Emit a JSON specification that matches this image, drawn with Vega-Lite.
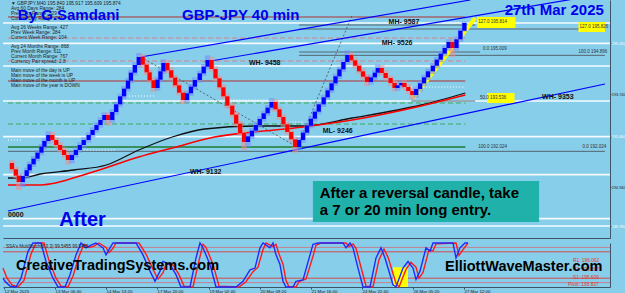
{
"$schema": "https://vega.github.io/schema/vega-lite/v6.json",
"background": "#87CEEB",
"padding": 0,
"spacing": 2,
"config": {
  "view": {"stroke": null},
  "font": "Liberation Sans",
  "axis": {"grid": false, "title": null},
  "axisX": {"labels": false, "ticks": false, "domainColor": "#3d5566", "domainWidth": 1},
  "axisY": {"labels": false, "ticks": false, "domainColor": "#3d5566", "domainWidth": 1}
},
"datasets": {
  "candles": [
    {"x":4,"o":191.67,"c":191.48,"h":191.75,"l":191.40},
    {"x":8,"o":191.48,"c":191.29,"h":191.56,"l":191.21},
    {"x":11,"o":191.29,"c":191.10,"h":191.37,"l":190.86},
    {"x":15,"o":191.10,"c":191.28,"h":191.36,"l":190.95},
    {"x":19,"o":191.28,"c":191.45,"h":191.53,"l":191.20},
    {"x":22,"o":191.45,"c":191.63,"h":191.71,"l":191.37},
    {"x":26,"o":191.63,"c":191.80,"h":191.88,"l":191.55},
    {"x":30,"o":191.80,"c":191.98,"h":192.06,"l":191.72},
    {"x":34,"o":191.98,"c":192.16,"h":192.24,"l":191.90},
    {"x":37,"o":192.16,"c":192.33,"h":192.41,"l":192.08},
    {"x":41,"o":192.33,"c":192.51,"h":192.62,"l":192.25},
    {"x":45,"o":192.51,"c":192.36,"h":192.60,"l":192.28},
    {"x":49,"o":192.36,"c":192.21,"h":192.44,"l":192.13},
    {"x":53,"o":192.21,"c":192.06,"h":192.29,"l":191.98},
    {"x":57,"o":192.06,"c":191.91,"h":192.14,"l":191.83},
    {"x":61,"o":191.91,"c":191.76,"h":191.99,"l":191.62},
    {"x":65,"o":191.76,"c":191.91,"h":191.99,"l":191.66},
    {"x":69,"o":191.91,"c":192.06,"h":192.14,"l":191.83},
    {"x":73,"o":192.06,"c":192.21,"h":192.29,"l":191.98},
    {"x":77,"o":192.21,"c":192.36,"h":192.44,"l":192.13},
    {"x":82,"o":192.36,"c":192.51,"h":192.59,"l":192.28},
    {"x":86,"o":192.51,"c":192.66,"h":192.74,"l":192.43},
    {"x":90,"o":192.66,"c":192.81,"h":192.89,"l":192.58},
    {"x":94,"o":192.81,"c":192.96,"h":193.04,"l":192.73},
    {"x":98,"o":192.96,"c":193.11,"h":193.19,"l":192.88},
    {"x":102,"o":193.11,"c":192.96,"h":193.19,"l":192.80},
    {"x":106,"o":192.96,"c":193.20,"h":193.28,"l":192.88},
    {"x":110,"o":193.20,"c":193.43,"h":193.51,"l":193.12},
    {"x":114,"o":193.43,"c":193.67,"h":193.75,"l":193.35},
    {"x":118,"o":193.67,"c":193.90,"h":193.98,"l":193.59},
    {"x":122,"o":193.90,"c":194.14,"h":194.22,"l":193.82},
    {"x":125,"o":194.14,"c":194.38,"h":194.46,"l":194.06},
    {"x":129,"o":194.38,"c":194.61,"h":194.69,"l":194.30},
    {"x":133,"o":194.61,"c":194.85,"h":194.97,"l":194.53},
    {"x":137,"o":194.85,"c":194.62,"h":194.93,"l":194.54},
    {"x":141,"o":194.62,"c":194.39,"h":194.70,"l":194.31},
    {"x":144,"o":194.39,"c":194.15,"h":194.47,"l":194.07},
    {"x":148,"o":194.15,"c":193.92,"h":194.23,"l":193.80},
    {"x":152,"o":193.92,"c":194.17,"h":194.25,"l":193.84},
    {"x":155,"o":194.17,"c":194.42,"h":194.50,"l":194.09},
    {"x":158,"o":194.42,"c":194.67,"h":194.78,"l":194.34},
    {"x":162,"o":194.67,"c":194.45,"h":194.75,"l":194.37},
    {"x":166,"o":194.45,"c":194.23,"h":194.53,"l":194.15},
    {"x":170,"o":194.23,"c":194.00,"h":194.31,"l":193.92},
    {"x":174,"o":194.00,"c":193.78,"h":194.08,"l":193.70},
    {"x":178,"o":193.78,"c":193.56,"h":193.86,"l":193.44},
    {"x":182,"o":193.56,"c":193.76,"h":193.84,"l":193.48},
    {"x":186,"o":193.76,"c":193.96,"h":194.04,"l":193.68},
    {"x":190,"o":193.96,"c":194.16,"h":194.24,"l":193.88},
    {"x":195,"o":194.16,"c":194.36,"h":194.44,"l":194.08},
    {"x":199,"o":194.36,"c":194.56,"h":194.64,"l":194.28},
    {"x":203,"o":194.56,"c":194.76,"h":194.90,"l":194.48},
    {"x":207,"o":194.76,"c":194.49,"h":194.86,"l":194.41},
    {"x":211,"o":194.49,"c":194.21,"h":194.57,"l":194.13},
    {"x":215,"o":194.21,"c":193.94,"h":194.29,"l":193.86},
    {"x":219,"o":193.94,"c":193.67,"h":194.02,"l":193.59},
    {"x":223,"o":193.67,"c":193.39,"h":193.75,"l":193.31},
    {"x":228,"o":193.39,"c":193.12,"h":193.47,"l":193.04},
    {"x":232,"o":193.12,"c":192.85,"h":193.20,"l":192.77},
    {"x":236,"o":192.85,"c":192.57,"h":192.93,"l":192.49},
    {"x":240,"o":192.57,"c":192.30,"h":192.65,"l":192.06},
    {"x":244,"o":192.30,"c":192.47,"h":192.55,"l":192.15},
    {"x":248,"o":192.47,"c":192.64,"h":192.72,"l":192.39},
    {"x":252,"o":192.64,"c":192.81,"h":192.89,"l":192.56},
    {"x":256,"o":192.81,"c":192.99,"h":193.07,"l":192.73},
    {"x":260,"o":192.99,"c":193.16,"h":193.24,"l":192.91},
    {"x":264,"o":193.16,"c":193.33,"h":193.41,"l":193.08},
    {"x":268,"o":193.33,"c":193.50,"h":193.62,"l":193.25},
    {"x":272,"o":193.50,"c":193.28,"h":193.58,"l":193.20},
    {"x":276,"o":193.28,"c":193.05,"h":193.36,"l":192.97},
    {"x":280,"o":193.05,"c":192.83,"h":193.13,"l":192.75},
    {"x":284,"o":192.83,"c":192.60,"h":192.91,"l":192.52},
    {"x":288,"o":192.60,"c":192.38,"h":192.68,"l":192.30},
    {"x":292,"o":192.38,"c":192.15,"h":192.46,"l":191.98},
    {"x":296,"o":192.15,"c":192.36,"h":192.44,"l":192.05},
    {"x":300,"o":192.36,"c":192.58,"h":192.66,"l":192.28},
    {"x":304,"o":192.58,"c":192.79,"h":192.87,"l":192.50},
    {"x":308,"o":192.79,"c":193.00,"h":193.08,"l":192.71},
    {"x":312,"o":193.00,"c":193.21,"h":193.29,"l":192.92},
    {"x":316,"o":193.21,"c":193.43,"h":193.51,"l":193.13},
    {"x":321,"o":193.43,"c":193.64,"h":193.72,"l":193.35},
    {"x":325,"o":193.64,"c":193.85,"h":193.93,"l":193.56},
    {"x":329,"o":193.85,"c":194.06,"h":194.14,"l":193.77},
    {"x":333,"o":194.06,"c":194.27,"h":194.35,"l":193.98},
    {"x":337,"o":194.27,"c":194.48,"h":194.56,"l":194.19},
    {"x":341,"o":194.48,"c":194.70,"h":194.78,"l":194.40},
    {"x":345,"o":194.70,"c":194.91,"h":195.05,"l":194.62},
    {"x":349,"o":194.91,"c":194.75,"h":194.99,"l":194.67},
    {"x":353,"o":194.75,"c":194.59,"h":194.83,"l":194.51},
    {"x":357,"o":194.59,"c":194.42,"h":194.67,"l":194.34},
    {"x":361,"o":194.42,"c":194.26,"h":194.50,"l":194.18},
    {"x":365,"o":194.26,"c":194.10,"h":194.34,"l":193.98},
    {"x":369,"o":194.10,"c":194.24,"h":194.32,"l":194.02},
    {"x":373,"o":194.24,"c":194.38,"h":194.46,"l":194.16},
    {"x":376,"o":194.38,"c":194.52,"h":194.62,"l":194.30},
    {"x":380,"o":194.52,"c":194.37,"h":194.60,"l":194.29},
    {"x":384,"o":194.37,"c":194.22,"h":194.45,"l":194.14},
    {"x":389,"o":194.22,"c":194.07,"h":194.30,"l":193.99},
    {"x":393,"o":194.07,"c":193.92,"h":194.15,"l":193.82},
    {"x":396,"o":193.92,"c":194.00,"h":194.08,"l":193.84},
    {"x":400,"o":194.00,"c":194.07,"h":194.15,"l":193.92},
    {"x":403,"o":194.07,"c":193.95,"h":194.15,"l":193.87},
    {"x":407,"o":193.95,"c":193.83,"h":194.03,"l":193.75},
    {"x":411,"o":193.83,"c":193.71,"h":193.91,"l":193.58},
    {"x":415,"o":193.71,"c":193.89,"h":193.97,"l":193.63},
    {"x":419,"o":193.89,"c":194.06,"h":194.14,"l":193.81},
    {"x":423,"o":194.06,"c":194.24,"h":194.32,"l":193.98},
    {"x":427,"o":194.24,"c":194.42,"h":194.50,"l":194.16},
    {"x":432,"o":194.42,"c":194.59,"h":194.67,"l":194.34},
    {"x":436,"o":194.59,"c":194.77,"h":194.85,"l":194.51},
    {"x":440,"o":194.77,"c":194.95,"h":195.03,"l":194.69},
    {"x":444,"o":194.95,"c":195.12,"h":195.20,"l":194.87},
    {"x":448,"o":195.12,"c":195.30,"h":195.38,"l":195.04},
    {"x":452,"o":195.30,"c":195.12,"h":195.38,"l":194.85},
    {"x":456,"o":195.12,"c":195.38,"h":195.46,"l":195.04},
    {"x":460,"o":195.38,"c":195.64,"h":195.72,"l":195.30},
    {"x":464,"o":195.64,"c":195.87,"h":195.92,"l":195.61}
  ],
  "stochFast": [
    {"x":0,"v":20},{"x":2,"v":13},{"x":7,"v":2},{"x":13,"v":0},{"x":18,"v":20},{"x":25,"v":81},{"x":30,"v":100},{"x":38,"v":100},{"x":43,"v":58},{"x":50,"v":20},{"x":55,"v":0},{"x":62,"v":0},{"x":67,"v":28},{"x":73,"v":73},{"x":78,"v":100},{"x":83,"v":89},{"x":88,"v":95},{"x":93,"v":100},{"x":100,"v":89},{"x":103,"v":73},{"x":107,"v":89},{"x":110,"v":100},{"x":133,"v":100},{"x":140,"v":73},{"x":147,"v":36},{"x":152,"v":13},{"x":157,"v":36},{"x":160,"v":58},{"x":167,"v":51},{"x":173,"v":28},{"x":178,"v":0},{"x":187,"v":0},{"x":193,"v":66},{"x":197,"v":100},{"x":200,"v":89},{"x":207,"v":51},{"x":213,"v":0},{"x":233,"v":0},{"x":240,"v":13},{"x":247,"v":39},{"x":252,"v":43},{"x":257,"v":89},{"x":260,"v":100},{"x":267,"v":89},{"x":270,"v":100},{"x":273,"v":73},{"x":277,"v":51},{"x":280,"v":13},{"x":283,"v":0},{"x":290,"v":0},{"x":293,"v":13},{"x":300,"v":16},{"x":307,"v":73},{"x":310,"v":97},{"x":315,"v":100},{"x":340,"v":100},{"x":343,"v":89},{"x":347,"v":100},{"x":350,"v":89},{"x":355,"v":43},{"x":360,"v":0},{"x":367,"v":0},{"x":373,"v":66},{"x":378,"v":89},{"x":382,"v":66},{"x":390,"v":5},{"x":393,"v":0},{"x":400,"v":43},{"x":405,"v":58},{"x":410,"v":43},{"x":413,"v":17},{"x":417,"v":36},{"x":423,"v":89},{"x":427,"v":81},{"x":430,"v":100},{"x":450,"v":100},{"x":453,"v":66},{"x":457,"v":89},{"x":462,"v":100},{"x":465,"v":100}
  ],
  "stochSlow": [
    {"x":0,"v":43},{"x":4,"v":20},{"x":9,"v":5},{"x":15,"v":0},{"x":21,"v":15},{"x":28,"v":75},{"x":33,"v":100},{"x":41,"v":100},{"x":46,"v":60},{"x":53,"v":20},{"x":58,"v":2},{"x":65,"v":0},{"x":70,"v":25},{"x":76,"v":70},{"x":81,"v":97},{"x":86,"v":90},{"x":91,"v":93},{"x":96,"v":100},{"x":103,"v":90},{"x":106,"v":78},{"x":110,"v":88},{"x":113,"v":100},{"x":136,"v":100},{"x":143,"v":75},{"x":150,"v":40},{"x":155,"v":18},{"x":160,"v":32},{"x":163,"v":52},{"x":170,"v":50},{"x":176,"v":28},{"x":181,"v":2},{"x":190,"v":0},{"x":196,"v":60},{"x":200,"v":97},{"x":203,"v":90},{"x":210,"v":52},{"x":216,"v":2},{"x":236,"v":0},{"x":243,"v":12},{"x":250,"v":35},{"x":255,"v":45},{"x":260,"v":85},{"x":263,"v":100},{"x":270,"v":92},{"x":273,"v":97},{"x":276,"v":75},{"x":280,"v":52},{"x":283,"v":15},{"x":286,"v":0},{"x":293,"v":0},{"x":296,"v":12},{"x":303,"v":18},{"x":310,"v":70},{"x":313,"v":95},{"x":318,"v":100},{"x":343,"v":100},{"x":346,"v":92},{"x":350,"v":98},{"x":353,"v":88},{"x":358,"v":45},{"x":363,"v":2},{"x":370,"v":0},{"x":376,"v":62},{"x":381,"v":86},{"x":385,"v":68},{"x":393,"v":8},{"x":396,"v":0},{"x":403,"v":40},{"x":408,"v":56},{"x":413,"v":45},{"x":416,"v":20},{"x":420,"v":33},{"x":426,"v":85},{"x":430,"v":82},{"x":433,"v":98},{"x":453,"v":100},{"x":456,"v":72},{"x":460,"v":85},{"x":465,"v":100}
  ]
},
"vconcat": [
{
  "width": 607, "height": 238,
  "layer": [
    {"data": {"values": [{"p":195.87},{"p":195.26},{"p":194.58},{"p":193.53},{"p":192.46},{"p":191.32},{"p":190.0},{"p":189.78}]},
     "mark": {"type": "rule", "color": "#F4FAFF", "strokeWidth": 1.6},
     "encoding": {"y": {"field": "p", "type": "quantitative", "scale": {"domain": [189.42, 196.56], "nice": false, "zero": false},
        "axis": {"orient": "right", "labels": true, "ticks": true, "tickSize": 1, "tickColor": "#3d5566", "labelFontSize": 3.8, "labelPadding": 0.3, "format": ".3f", "labelOverlap": false, "labelFlush": false, "labelBound": false, "title": null,
          "values": [196.14, 195.87, 195.74, 195.26, 194.94, 194.58, 194.14, 193.74, 193.53, 193.34, 192.94, 192.46, 192.14, 191.74, 191.32, 190.94, 190.54, 190.14, 190.0, 189.78],
          "labelColor": {"condition": {"test": "indexof([195.87,195.26,194.58,193.53,192.46,191.32,190,189.78], datum.value) >= 0", "value": "#ffffff"}, "value": "#1a1a1a"}}}}},
    {"data": {"values": [{"p":196.05,"x1":0,"x2":465},{"p":194.13,"x1":0,"x2":465}]},
     "mark": {"type": "rule", "color": "#B03030", "strokeWidth": 1},
     "encoding": {"x": {"field": "x1", "type": "quantitative", "scale": {"domain": [0, 607], "nice": false, "zero": false}}, "x2": {"field": "x2"},
        "y": {"field": "p", "type": "quantitative", "scale": {"domain": [189.42, 196.56], "nice": false, "zero": false}}}},
    {"data": {"values": [{"p":195.42,"x1":0,"x2":465},{"p":194.73,"x1":0,"x2":465}]},
     "mark": {"type": "rule", "color": "#D9808A", "strokeWidth": 1, "strokeDash": [5, 3]},
     "encoding": {"x": {"field": "x1", "type": "quantitative", "scale": {"domain": [0, 607], "nice": false, "zero": false}}, "x2": {"field": "x2"},
        "y": {"field": "p", "type": "quantitative", "scale": {"domain": [189.42, 196.56], "nice": false, "zero": false}}}},
    {"data": {"values": [{"p":193.47,"x1":0,"x2":465},{"p":192.84,"x1":0,"x2":465}]},
     "mark": {"type": "rule", "color": "#3DAA5A", "strokeWidth": 1, "strokeDash": [5, 3]},
     "encoding": {"x": {"field": "x1", "type": "quantitative", "scale": {"domain": [0, 607], "nice": false, "zero": false}}, "x2": {"field": "x2"},
        "y": {"field": "p", "type": "quantitative", "scale": {"domain": [189.42, 196.56], "nice": false, "zero": false}}}},
    {"data": {"values": [{"p":192.15,"x1":0,"x2":465}]},
     "mark": {"type": "rule", "color": "#1E7B2E", "strokeWidth": 1.3},
     "encoding": {"x": {"field": "x1", "type": "quantitative", "scale": {"domain": [0, 607], "nice": false, "zero": false}}, "x2": {"field": "x2"},
        "y": {"field": "p", "type": "quantitative", "scale": {"domain": [189.42, 196.56], "nice": false, "zero": false}}}},
    {"data": {"values": [{"p":195.81,"x1":296,"x2":475},{"p":195.69,"x1":296,"x2":607},{"p":195.0,"x1":296,"x2":480},{"p":194.9,"x1":296,"x2":607},{"p":193.53,"x1":410,"x2":475},{"p":192.02,"x1":0,"x2":607}]},
     "mark": {"type": "rule", "color": "#56646E", "strokeWidth": 1},
     "encoding": {"x": {"field": "x1", "type": "quantitative", "scale": {"domain": [0, 607], "nice": false, "zero": false}}, "x2": {"field": "x2"},
        "y": {"field": "p", "type": "quantitative", "scale": {"domain": [189.42, 196.56], "nice": false, "zero": false}}}},
    {"data": {"values": [{"p":193.68,"x1":120,"x2":150},{"p":192.36,"x1":0,"x2":15},{"p":192.06,"x1":77,"x2":110},{"p":193.56,"x1":220,"x2":267},{"p":192.9,"x1":280,"x2":300},{"p":193.95,"x1":410,"x2":465}]},
     "mark": {"type": "rule", "color": "#FFFFFF", "strokeWidth": 1, "strokeDash": [1, 2]},
     "encoding": {"x": {"field": "x1", "type": "quantitative", "scale": {"domain": [0, 607], "nice": false, "zero": false}}, "x2": {"field": "x2"},
        "y": {"field": "p", "type": "quantitative", "scale": {"domain": [189.42, 196.56], "nice": false, "zero": false}}}},
    {"data": {"values": [{"x1":477,"x2":516,"p1":196.05,"p2":195.72},{"x1":580,"x2":607,"p1":195.9,"p2":195.6},{"x1":487,"x2":515,"p1":193.77,"p2":193.47}]},
     "mark": {"type": "rect", "color": "#FFFF00"},
     "encoding": {"x": {"field": "x1", "type": "quantitative", "scale": {"domain": [0, 607], "nice": false, "zero": false}}, "x2": {"field": "x2"},
        "y": {"field": "p1", "type": "quantitative", "scale": {"domain": [189.42, 196.56], "nice": false, "zero": false}}, "y2": {"field": "p2"}}},
    {"data": {"values": [{"x1":135,"p1":194.85,"x2":294,"p2":192.15},{"x1":294,"p1":192.15,"x2":350,"p2":196.11}]},
     "mark": {"type": "rule", "color": "#4a4a4a", "strokeWidth": 0.8, "strokeDash": [2, 2]},
     "encoding": {"x": {"field": "x1", "type": "quantitative", "scale": {"domain": [0, 607], "nice": false, "zero": false}}, "x2": {"field": "x2"},
        "y": {"field": "p1", "type": "quantitative", "scale": {"domain": [189.42, 196.56], "nice": false, "zero": false}}, "y2": {"field": "p2"}}},
    {"data": {"values": [{"x1":0,"p1":190.23,"x2":607,"p2":194.04},{"x1":135,"p1":194.85,"x2":470,"p2":196.56},{"x1":200,"p1":194.70,"x2":607,"p2":196.75}]},
     "mark": {"type": "rule", "color": "#0000FF", "strokeWidth": 1.2, "clip": true},
     "encoding": {"x": {"field": "x1", "type": "quantitative", "scale": {"domain": [0, 607], "nice": false, "zero": false}}, "x2": {"field": "x2"},
        "y": {"field": "p1", "type": "quantitative", "scale": {"domain": [189.42, 196.56], "nice": false, "zero": false}}, "y2": {"field": "p2"}}},
    {"data": {"values": [{"x":0,"p":191.22},{"x":13,"p":191.22},{"x":33,"p":191.34},{"x":67,"p":191.46},{"x":100,"p":191.61},{"x":133,"p":192.06},{"x":167,"p":192.45},{"x":200,"p":192.69},{"x":250,"p":192.78},{"x":300,"p":192.78},{"x":350,"p":193.02},{"x":420,"p":193.41},{"x":465,"p":193.77}]},
     "mark": {"type": "line", "color": "#111111", "strokeWidth": 1.3, "interpolate": "monotone"},
     "encoding": {"x": {"field": "x", "type": "quantitative", "scale": {"domain": [0, 607], "nice": false, "zero": false}},
        "y": {"field": "p", "type": "quantitative", "scale": {"domain": [189.42, 196.56], "nice": false, "zero": false}}}},
    {"data": {"values": [{"x":0,"p":191.01},{"x":33,"p":191.01},{"x":83,"p":191.37},{"x":133,"p":191.85},{"x":167,"p":192.12},{"x":210,"p":192.45},{"x":250,"p":192.60},{"x":300,"p":192.75},{"x":350,"p":192.96},{"x":420,"p":193.38},{"x":465,"p":193.71}]},
     "mark": {"type": "line", "color": "#FF0000", "strokeWidth": 1.6, "interpolate": "monotone"},
     "encoding": {"x": {"field": "x", "type": "quantitative", "scale": {"domain": [0, 607], "nice": false, "zero": false}},
        "y": {"field": "p", "type": "quantitative", "scale": {"domain": [189.42, 196.56], "nice": false, "zero": false}}}},
    {"data": {"values": [{"x":412,"p":193.62},{"x":475,"p":196.02}]},
     "mark": {"type": "line", "color": "#FFFF00", "strokeWidth": 4},
     "encoding": {"x": {"field": "x", "type": "quantitative", "scale": {"domain": [0, 607], "nice": false, "zero": false}},
        "y": {"field": "p", "type": "quantitative", "scale": {"domain": [189.42, 196.56], "nice": false, "zero": false}}}},
    {"data": {"name": "candles"},
     "mark": {"type": "bar", "width": 5.5, "opacity": 0.55},
     "encoding": {"x": {"field": "x", "type": "quantitative", "scale": {"domain": [0, 607], "nice": false, "zero": false}},
        "y": {"field": "l", "type": "quantitative", "scale": {"domain": [189.42, 196.56], "nice": false, "zero": false}}, "y2": {"field": "h"},
        "color": {"condition": {"test": "datum.c > datum.o", "value": "#6F8DFF"}, "value": "#F28A8A"}}},
    {"data": {"name": "candles"},
     "mark": {"type": "bar", "width": 4.2},
     "encoding": {"x": {"field": "x", "type": "quantitative", "scale": {"domain": [0, 607], "nice": false, "zero": false}},
        "y": {"field": "o", "type": "quantitative", "scale": {"domain": [189.42, 196.56], "nice": false, "zero": false}}, "y2": {"field": "c"},
        "color": {"condition": {"test": "datum.c > datum.o", "value": "#0000FF"}, "value": "#FF0000"}}},
    {"data": {"values": [{"x1":310,"x2":540,"p1":191.13,"p2":189.90}]},
     "mark": {"type": "rect", "color": "#20B2AA"},
     "encoding": {"x": {"field": "x1", "type": "quantitative", "scale": {"domain": [0, 607], "nice": false, "zero": false}}, "x2": {"field": "x2"},
        "y": {"field": "p1", "type": "quantitative", "scale": {"domain": [189.42, 196.56], "nice": false, "zero": false}}, "y2": {"field": "p2"}}},
    {"data": {"values": [
        {"x":3,"p":196.44,"t":"▼ GBPJPY,M40  195.840 195.917 195.609 195.874"},
        {"x":3,"p":196.29,"t":"Avg 60 Days Range: 284"},
        {"x":3,"p":196.14,"t":"Prev Day Range: 329"},
        {"x":3,"p":195.99,"t":"Current Day Range: 241"},
        {"x":3,"p":195.72,"t":"Avg 26 Weeks Range: 427"},
        {"x":3,"p":195.57,"t":"Prev Week Range: 284"},
        {"x":3,"p":195.42,"t":"Current Week Range: 104"},
        {"x":3,"p":195.15,"t":"Avg 24 Months Range: 868"},
        {"x":3,"p":195.00,"t":"Prev Month Range: 611"},
        {"x":3,"p":194.85,"t":"Current Month Range: 767"},
        {"x":3,"p":194.70,"t":"Currency Pair spread: 2.8"},
        {"x":3,"p":194.43,"t":"Main move of the day is UP"},
        {"x":3,"p":194.28,"t":"Main move of the week is UP"},
        {"x":3,"p":194.13,"t":"Main move of the month is UP"},
        {"x":3,"p":193.98,"t":"Main move of the year is DOWN"}]},
     "mark": {"type": "text", "align": "left", "baseline": "middle", "fontSize": 4.8, "color": "#1c1c1c"},
     "encoding": {"x": {"field": "x", "type": "quantitative", "scale": {"domain": [0, 607], "nice": false, "zero": false}},
        "y": {"field": "p", "type": "quantitative", "scale": {"domain": [189.42, 196.56], "nice": false, "zero": false}}, "text": {"field": "t"}}},
    {"data": {"values": [
        {"x":478,"p":195.9,"t":"127.0  195.814"},
        {"x":581,"p":195.75,"t":"127.0  195.826"},
        {"x":483,"p":195.09,"t":"0.0  195.009"},
        {"x":580,"p":195.0,"t":"100.0  194.896"},
        {"x":480,"p":193.62,"t":"50.0  193.536"},
        {"x":478,"p":192.15,"t":"100.0  192.024"},
        {"x":584,"p":192.15,"t":"0.0  192.024"}]},
     "mark": {"type": "text", "align": "left", "baseline": "middle", "fontSize": 4.5, "color": "#333333"},
     "encoding": {"x": {"field": "x", "type": "quantitative", "scale": {"domain": [0, 607], "nice": false, "zero": false}},
        "y": {"field": "p", "type": "quantitative", "scale": {"domain": [189.42, 196.56], "nice": false, "zero": false}}, "text": {"field": "t"}}},
    {"data": {"values": [
        {"x":387,"p":195.90,"t":"MH- 9587"},
        {"x":380,"p":195.27,"t":"MH- 9526"},
        {"x":245,"p":194.67,"t":"WH- 9458"},
        {"x":320,"p":192.63,"t":"ML- 9246"},
        {"x":185,"p":191.40,"t":"WH- 9132"},
        {"x":543,"p":193.65,"t":"WH- 9353"},
        {"x":0,"p":190.11,"t":"0000"}]},
     "mark": {"type": "text", "align": "left", "baseline": "middle", "fontSize": 7, "fontWeight": "bold", "color": "#111111"},
     "encoding": {"x": {"field": "x", "type": "quantitative", "scale": {"domain": [0, 607], "nice": false, "zero": false}},
        "y": {"field": "p", "type": "quantitative", "scale": {"domain": [189.42, 196.56], "nice": false, "zero": false}}, "text": {"field": "t"}}},
    {"data": {"values": [
        {"x":10,"p":196.11,"t":"By G.Samdani"},
        {"x":177,"p":196.125,"t":"GBP-JPY 40 min"},
        {"x":505,"p":196.26,"t":"27th Mar 2025"}]},
     "mark": {"type": "text", "align": "left", "baseline": "middle", "fontSize": 15, "fontWeight": "bold", "color": "#0000EE"},
     "encoding": {"x": {"field": "x", "type": "quantitative", "scale": {"domain": [0, 607], "nice": false, "zero": false}},
        "y": {"field": "p", "type": "quantitative", "scale": {"domain": [189.42, 196.56], "nice": false, "zero": false}}, "text": {"field": "t"}}},
    {"data": {"values": [{"x":52,"p":189.96,"t":"After"}]},
     "mark": {"type": "text", "align": "left", "baseline": "middle", "fontSize": 20, "fontWeight": "bold", "color": "#0000EE"},
     "encoding": {"x": {"field": "x", "type": "quantitative", "scale": {"domain": [0, 607], "nice": false, "zero": false}},
        "y": {"field": "p", "type": "quantitative", "scale": {"domain": [189.42, 196.56], "nice": false, "zero": false}}, "text": {"field": "t"}}},
    {"data": {"values": [{"x":317,"p":190.77,"t":"After a reversal candle, take"},{"x":317,"p":190.26,"t":"a 7 or 20 min long entry."}]},
     "mark": {"type": "text", "align": "left", "baseline": "middle", "fontSize": 15, "fontWeight": "bold", "color": "#000000"},
     "encoding": {"x": {"field": "x", "type": "quantitative", "scale": {"domain": [0, 607], "nice": false, "zero": false}},
        "y": {"field": "p", "type": "quantitative", "scale": {"domain": [189.42, 196.56], "nice": false, "zero": false}}, "text": {"field": "t"}}}
  ]
},
{
  "width": 607, "height": 44,
  "layer": [
    {"data": {"values": [{"v":90},{"v":10}]},
     "mark": {"type": "rule", "color": "#C48090", "strokeWidth": 1},
     "encoding": {"y": {"field": "v", "type": "quantitative", "scale": {"domain": [0, 100], "nice": false, "zero": false}, "axis": {"orient": "right", "title": null}}}},
    {"data": {"values": [{"v":80},{"v":20}]},
     "mark": {"type": "rule", "color": "#D24B4B", "strokeWidth": 1},
     "encoding": {"y": {"field": "v", "type": "quantitative", "scale": {"domain": [0, 100], "nice": false, "zero": false}}}},
    {"data": {"values": [{"x1":390,"x2":405,"v1":0,"v2":45}]},
     "mark": {"type": "rect", "color": "#FFFF00"},
     "encoding": {"x": {"field": "x1", "type": "quantitative", "scale": {"domain": [0, 607], "nice": false, "zero": false},
        "axis": {"labels": true, "ticks": true, "tickSize": 2, "tickColor": "#3d5566", "labelFontSize": 4.4, "labelColor": "#1a1a1a", "labelPadding": 0.5, "labelAlign": "left", "labelFlush": false, "labelOverlap": false, "labelBound": false, "title": null,
          "values": [1, 27, 52, 78, 103, 129, 154, 180, 206, 231, 257, 282, 308, 333, 359, 385, 410, 436, 461],
          "labelExpr": "['12 Mar 2025','12 Mar 15:20','13 Mar 06:40','13 Mar 22:00','14 Mar 13:20','17 Mar 04:40','17 Mar 20:00','18 Mar 11:20','19 Mar 02:40','19 Mar 18:00','20 Mar 09:20','21 Mar 00:40','21 Mar 16:00','24 Mar 07:20','24 Mar 22:40','25 Mar 14:00','26 Mar 05:20','26 Mar 20:40','27 Mar 12:00'][indexof([1,27,52,78,103,129,154,180,206,231,257,282,308,333,359,385,410,436,461], datum.value)]"}},
        "x2": {"field": "x2"},
        "y": {"field": "v1", "type": "quantitative", "scale": {"domain": [0, 100], "nice": false, "zero": false}}, "y2": {"field": "v2"}}},
    {"data": {"name": "stochSlow"},
     "mark": {"type": "line", "color": "#FF1A1A", "strokeWidth": 1.4},
     "encoding": {"x": {"field": "x", "type": "quantitative", "scale": {"domain": [0, 607], "nice": false, "zero": false}},
        "y": {"field": "v", "type": "quantitative", "scale": {"domain": [0, 100], "nice": false, "zero": false}}}},
    {"data": {"name": "stochFast"},
     "mark": {"type": "line", "color": "#1E2BFF", "strokeWidth": 1.4},
     "encoding": {"x": {"field": "x", "type": "quantitative", "scale": {"domain": [0, 607], "nice": false, "zero": false}},
        "y": {"field": "v", "type": "quantitative", "scale": {"domain": [0, 100], "nice": false, "zero": false}}}},
    {"data": {"values": [{"x":3,"v":91,"t":"SSA's MultiStoch(8,3,3)  99.5455  99.5455"}]},
     "mark": {"type": "text", "align": "left", "baseline": "middle", "fontSize": 4.5, "color": "#222222"},
     "encoding": {"x": {"field": "x", "type": "quantitative", "scale": {"domain": [0, 607], "nice": false, "zero": false}},
        "y": {"field": "v", "type": "quantitative", "scale": {"domain": [0, 100], "nice": false, "zero": false}}, "text": {"field": "t"}}},
    {"data": {"values": [{"x":570,"v":59,"t":"R1: 196.062"},{"x":570,"v":38,"t":"R2: 196.387"},{"x":570,"v":20,"t":"S1: 195.609"},{"x":565,"v":4,"t":"Pivot: 195.837"}]},
     "mark": {"type": "text", "align": "left", "baseline": "middle", "fontSize": 4.8, "color": "#E8301C"},
     "encoding": {"x": {"field": "x", "type": "quantitative", "scale": {"domain": [0, 607], "nice": false, "zero": false}},
        "y": {"field": "v", "type": "quantitative", "scale": {"domain": [0, 100], "nice": false, "zero": false}}, "text": {"field": "t"}}},
    {"data": {"values": [{"x":13,"v":48,"t":"CreativeTradingSystems.com"},{"x":442,"v":46,"t":"ElliottWaveMaster.com"}]},
     "mark": {"type": "text", "align": "left", "baseline": "middle", "fontSize": 14.5, "fontWeight": "bold", "color": "#000000"},
     "encoding": {"x": {"field": "x", "type": "quantitative", "scale": {"domain": [0, 607], "nice": false, "zero": false}},
        "y": {"field": "v", "type": "quantitative", "scale": {"domain": [0, 100], "nice": false, "zero": false}}, "text": {"field": "t"}}}
  ]
}
]
}
